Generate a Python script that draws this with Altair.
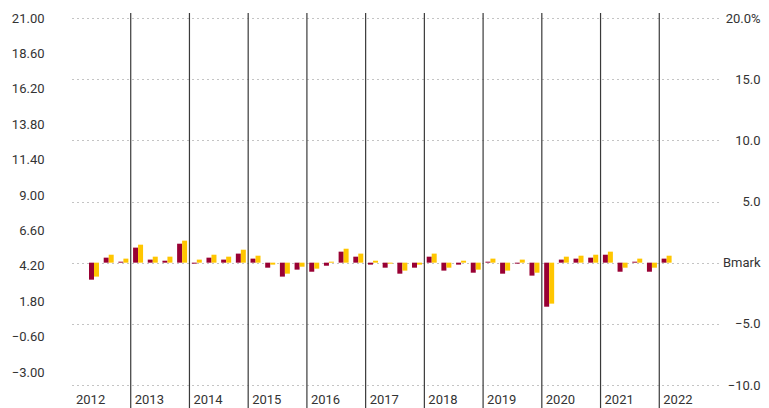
import altair as alt
import pandas as pd

# ---- data ----
quarters = (["2012Q2", "2012Q3", "2012Q4"]
            + [f"{y}Q{q}" for y in range(2013, 2022) for q in range(1, 5)]
            + ["2022Q1"])
portfolio = [-1.39, 0.41, 0.08,
             1.23, 0.25, 0.16, 1.55,
             -0.08, 0.41, 0.25, 0.74,
             0.33, -0.41, -1.14, -0.57,
             -0.74, -0.25, 0.90, 0.49,
             -0.16, -0.41, -0.90, -0.41,
             0.49, -0.65, -0.16, -0.82,
             0.08, -0.90, -0.08, -1.06,
             -3.60, 0.25, 0.33, 0.41,
             0.65, -0.74, 0.08, -0.74,
             0.33]
benchmark = [-1.14, 0.65, 0.33,
             1.47, 0.49, 0.49, 1.80,
             0.25, 0.65, 0.49, 1.06,
             0.57, -0.16, -0.90, -0.33,
             -0.49, 0.08, 1.14, 0.74,
             0.16, -0.08, -0.65, -0.16,
             0.74, -0.41, 0.16, -0.57,
             0.33, -0.65, 0.25, -0.82,
             -3.35, 0.49, 0.57, 0.65,
             0.90, -0.41, 0.33, -0.41,
             0.57]
years = list(range(2012, 2023))
divider_years = list(range(2013, 2023))
left_ticks = [21.00, 18.60, 16.20, 13.80, 11.40, 9.00, 6.60, 4.20, 1.80, -0.60, -3.00]
right_ticks = [-10, -5, 0, 5, 10, 15, 20]

FONT = "Roboto"
FS = 13
TXT = "#333333"
RED = "#990033"
YELLOW = "#FFC600"
W, H = 646, 367

df = pd.DataFrame({"quarter": quarters, "portfolio": portfolio, "benchmark": benchmark})
df["year"] = df["quarter"].str[:4].astype(int)
df["q"] = df["quarter"].str[-1].astype(int)
df["t"] = df["year"] + (df["q"] - 0.5) / 4

xscale = alt.Scale(domain=[2012, 2023], nice=False, zero=False, padding=0)
yscale = alt.Scale(domain=[-10, 20], nice=False, zero=False)

right_axis = alt.Axis(
    orient="right", values=right_ticks, title=None, domain=False, ticks=False,
    labelExpr="datum.value == 20 ? '20.0%' : datum.value == 0 ? 'Bmark' : format(datum.value, '.1f')",
    labelAlign="right", labelPadding=42, labelFont=FONT, labelFontSize=FS,
    labelColor=TXT, grid=True, gridDash=[1, 4], gridColor="#888888", gridWidth=1,
)

base = alt.Chart(df)
red_bars = base.mark_bar(width=5, xOffset=-2.5, color=RED).encode(
    x=alt.X("t:Q", scale=xscale, axis=None),
    y=alt.Y("portfolio:Q", scale=yscale, axis=right_axis),
)
yellow_bars = base.mark_bar(width=5, xOffset=2.5, color=YELLOW).encode(
    x=alt.X("t:Q", scale=xscale, axis=None),
    y=alt.Y("benchmark:Q", scale=yscale, axis=right_axis),
)

rules = alt.Chart(pd.DataFrame({"year": divider_years})).mark_rule(
    color="#3a3a3a", strokeWidth=1.2
).encode(
    x=alt.X("year:Q", scale=xscale, axis=None),
    y=alt.value(-5), y2=alt.value(H + 25),
)

labels = alt.Chart(pd.DataFrame({"year": years})).mark_text(
    align="left", baseline="middle", dx=4, font=FONT, fontSize=FS, color=TXT
).encode(
    x=alt.X("year:Q", scale=xscale, axis=None),
    y=alt.value(H + 15),
    text=alt.Text("year:N"),
)

main = alt.layer(red_bars, yellow_bars, rules, labels)

left = alt.Chart(pd.DataFrame({"v": left_ticks})).mark_point(opacity=0).encode(
    y=alt.Y("v:Q", scale=alt.Scale(domain=[-3.88, 21], nice=False, zero=False),
            axis=alt.Axis(orient="left", values=left_ticks, format=".2f", title=None,
                          domain=False, ticks=False, grid=False, labelPadding=28,
                          labelFont=FONT, labelFontSize=FS, labelColor=TXT)),
)

chart = alt.layer(left, main).resolve_scale(y="independent").properties(
    width=W, height=H,
    autosize=alt.AutoSizeParams(type="none"),
    padding={"left": 64, "top": 10, "right": 43, "bottom": 23},
).configure_view(stroke=None)

chart.save("out.html", embed_options={"renderer": "svg", "actions": False})
